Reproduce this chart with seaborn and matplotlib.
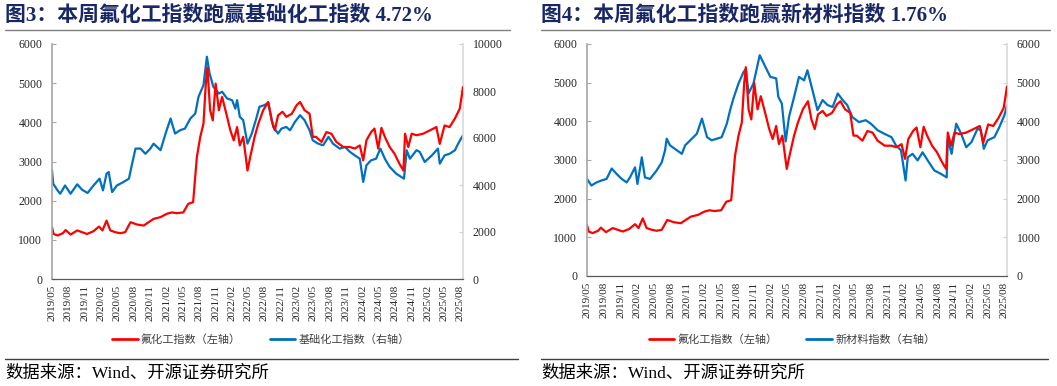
import pandas as pd
import matplotlib
matplotlib.use("Agg")
import matplotlib.pyplot as plt
import matplotlib.dates as mdates
from matplotlib.lines import Line2D
import seaborn as sns

# 氟化工指数 (left axis)
fluoro_dates = ["2019-05-01", "2019-05-10", "2019-06-01", "2019-07-01", "2019-07-16", "2019-08-13",
                "2019-09-19", "2019-10-16", "2019-11-13", "2019-12-19", "2020-01-19", "2020-02-07",
                "2020-03-01", "2020-03-22", "2020-04-19", "2020-05-16", "2020-06-13", "2020-07-13",
                "2020-08-19", "2020-09-25", "2020-10-22", "2020-11-19", "2020-12-28", "2021-02-01",
                "2021-03-01", "2021-03-28", "2021-05-04", "2021-06-01", "2021-06-28", "2021-07-19",
                "2021-08-07", "2021-08-25", "2021-09-07", "2021-09-16", "2021-10-01", "2021-10-16",
                "2021-11-01", "2021-11-19", "2021-12-07", "2022-01-04", "2022-01-22", "2022-02-10",
                "2022-03-01", "2022-03-16", "2022-04-04", "2022-04-28", "2022-05-13", "2022-06-07",
                "2022-06-28", "2022-07-25", "2022-08-22", "2022-09-10", "2022-09-28", "2022-10-16",
                "2022-11-10", "2022-12-01", "2023-01-01", "2023-01-28", "2023-02-16", "2023-03-13",
                "2023-04-10", "2023-04-28", "2023-05-16", "2023-06-16", "2023-07-13", "2023-08-10",
                "2023-09-07", "2023-10-16", "2023-11-22", "2023-12-19", "2024-01-16", "2024-02-04",
                "2024-02-22", "2024-03-19", "2024-04-07", "2024-04-28", "2024-05-16", "2024-06-04",
                "2024-07-01", "2024-07-28", "2024-08-25", "2024-09-16", "2024-09-25", "2024-10-13",
                "2024-11-01", "2024-11-28", "2025-01-04", "2025-02-13", "2025-03-19", "2025-04-07",
                "2025-05-04", "2025-06-01", "2025-07-01", "2025-07-28", "2025-08-15"]
fluoro_vals = [1320, 1150, 1110, 1170, 1250, 1135,
               1240, 1195, 1150, 1220, 1340, 1240,
               1490, 1240, 1195, 1170, 1195, 1450,
               1390, 1365, 1450, 1535, 1580, 1665,
               1700, 1680, 1700, 1920, 1960, 3115,
               3630, 3970, 4990, 5400, 4310, 4050,
               4990, 4310, 4650, 4140, 3800, 3540,
               3880, 3410, 3630, 2770, 3110, 3630,
               3970, 4310, 4520, 4050, 3800, 4180,
               4270, 4140, 4220, 4440, 4520, 4310,
               4220, 3630, 3630, 3500, 3750, 3710,
               3500, 3370, 3370, 3330, 3410, 3030,
               3540, 3750, 3840, 3330, 3860, 3630,
               3370, 3200, 2940, 2770, 3710, 3370,
               3710, 3670, 3710, 3800, 3880, 3450,
               3920, 3880, 4100, 4350, 4900]

# 基础化工指数 (right axis of the left chart)
basic_dates = ["2019-05-01", "2019-05-08", "2019-06-01", "2019-06-16", "2019-07-13", "2019-08-13",
               "2019-09-19", "2019-10-16", "2019-11-16", "2019-12-19", "2020-01-22", "2020-02-10",
               "2020-03-01", "2020-03-13", "2020-04-01", "2020-04-28", "2020-06-04", "2020-07-04",
               "2020-07-22", "2020-08-10", "2020-09-07", "2020-10-04", "2020-11-01", "2020-11-19",
               "2020-12-28", "2021-01-25", "2021-02-22", "2021-03-19", "2021-04-16", "2021-05-13",
               "2021-06-13", "2021-07-10", "2021-07-28", "2021-08-25", "2021-09-13", "2021-09-28",
               "2021-10-19", "2021-11-19", "2021-12-07", "2022-01-04", "2022-02-01", "2022-02-19",
               "2022-03-01", "2022-03-16", "2022-04-04", "2022-04-28", "2022-05-22", "2022-06-16",
               "2022-07-04", "2022-08-01", "2022-08-22", "2022-09-19", "2022-10-16", "2022-11-04",
               "2022-12-01", "2022-12-22", "2023-01-19", "2023-02-16", "2023-03-13", "2023-04-10",
               "2023-04-28", "2023-05-28", "2023-06-25", "2023-07-25", "2023-08-19", "2023-09-25",
               "2023-10-25", "2023-11-22", "2023-12-19", "2024-01-16", "2024-02-04", "2024-02-22",
               "2024-03-19", "2024-04-16", "2024-05-10", "2024-06-04", "2024-07-01", "2024-08-07",
               "2024-09-04", "2024-09-19", "2024-10-04", "2024-10-22", "2024-11-28", "2024-12-16",
               "2025-01-13", "2025-02-22", "2025-03-28", "2025-04-07", "2025-05-04", "2025-06-01",
               "2025-07-01", "2025-07-19", "2025-08-15"]
basic_vals = [4620, 4050, 3770, 3630, 3980, 3630,
              4030, 3800, 3660, 3980, 4270, 3770,
              4480, 4550, 3700, 3980, 4130, 4270,
              4910, 5550, 5550, 5330, 5550, 5760,
              5480, 6190, 6830, 6190, 6330, 6400,
              6830, 7040, 7750, 8250, 9460, 8750,
              8180, 7890, 7970, 7680, 7610, 7250,
              7610, 6900, 6760, 5760, 6190, 6830,
              7330, 7400, 7500, 6470, 6190, 6400,
              6470, 6330, 6690, 6970, 6760, 6330,
              5900, 5760, 5690, 6050, 5760, 5550,
              5620, 5410, 5260, 5120, 4130, 4840,
              5050, 5120, 5550, 5120, 4770, 4480,
              4340, 4270, 5480, 5120, 5480, 5410,
              4980, 5260, 5550, 4910, 5260, 5330,
              5480, 5760, 6120]

# 新材料指数 (right axis of the right chart)
newmat_dates = ["2019-05-01", "2019-05-25", "2019-06-22", "2019-07-19", "2019-08-16", "2019-09-13",
                "2019-10-10", "2019-11-07", "2019-12-04", "2019-12-22", "2020-01-19", "2020-02-01",
                "2020-02-25", "2020-03-13", "2020-04-10", "2020-05-16", "2020-06-13", "2020-07-01",
                "2020-07-10", "2020-07-28", "2020-09-04", "2020-10-01", "2020-10-19", "2020-11-16",
                "2020-12-22", "2021-01-19", "2021-02-16", "2021-03-13", "2021-04-10", "2021-05-07",
                "2021-06-04", "2021-06-22", "2021-07-10", "2021-08-07", "2021-09-04", "2021-09-16",
                "2021-10-01", "2021-10-28", "2021-12-01", "2022-01-01", "2022-01-28", "2022-03-01",
                "2022-03-13", "2022-04-01", "2022-04-22", "2022-05-10", "2022-06-07", "2022-07-04",
                "2022-08-01", "2022-08-19", "2022-09-16", "2022-10-13", "2022-11-10", "2022-12-07",
                "2023-01-04", "2023-02-01", "2023-02-28", "2023-03-25", "2023-04-22", "2023-05-28",
                "2023-07-04", "2023-08-01", "2023-09-07", "2023-10-13", "2023-11-22", "2023-12-16",
                "2024-01-13", "2024-02-07", "2024-02-19", "2024-03-16", "2024-04-13", "2024-05-10",
                "2024-06-07", "2024-07-13", "2024-08-19", "2024-09-19", "2024-09-25", "2024-10-16",
                "2024-11-10", "2024-12-07", "2025-01-04", "2025-02-01", "2025-03-07", "2025-03-25",
                "2025-04-10", "2025-05-01", "2025-06-07", "2025-07-04", "2025-08-01", "2025-08-15"]
newmat_vals = [2510, 2340, 2420, 2470, 2510, 2780,
               2640, 2510, 2420, 2550, 2810, 2380,
               3070, 2550, 2510, 2730, 2940, 3250,
               3550, 3380, 3250, 3160, 3380, 3510,
               3680, 4070, 3590, 3510, 3550, 3590,
               3940, 4290, 4590, 4980, 5280, 5350,
               4720, 4980, 5710, 5410, 5150, 5110,
               4630, 4460, 3480, 4110, 4630, 5150,
               5060, 5320, 4800, 4290, 4550, 4420,
               4370, 4720, 4550, 4420, 4110, 3980,
               4030, 3940, 3770, 3680, 3590, 3380,
               3250, 2470, 3070, 3160, 2990, 3200,
               2990, 2730, 2640, 2550, 3550, 3160,
               3940, 3680, 3330, 3460, 3810, 3770,
               3290, 3510, 3590, 3850, 4160, 4420]

titles = ["图3：本周氟化工指数跑赢基础化工指数 4.72%",
          "图4：本周氟化工指数跑赢新材料指数 1.76%"]
left_label = "氟化工指数（左轴）"
right_labels = ["基础化工指数（右轴）", "新材料指数（右轴）"]
source_text = "数据来源：Wind、开源证券研究所"

RED = "#FF0000"
BLUE = "#0070C0"

sns.set_style("white")
plt.rcParams["font.family"] = ["Liberation Serif", "Noto Sans CJK SC"]

fig = plt.figure(figsize=(10.57, 3.86), dpi=100)
W, H = 1057, 386


def px_rect(x0, x1, y0, y1):
    return [x0 / W, 1 - y1 / H, (x1 - x0) / W, (y1 - y0) / H]


panels = [
    dict(rect=px_rect(52, 463, 44, 279), right_dates=basic_dates, right_vals=basic_vals,
         rmax=10000, rstep=2000, title=titles[0], rlabel=right_labels[0],
         tx=5, line_x=(5, 510), src_x=(5, 518), leg_x=261),
    dict(rect=px_rect(587, 1007, 44, 276), right_dates=newmat_dates, right_vals=newmat_vals,
         rmax=6000, rstep=1000, title=titles[1], rlabel=right_labels[1],
         tx=541, line_x=(541, 1050), src_x=(541, 1048), leg_x=792),
]

x_start = pd.Timestamp("2019-05-01")
x_end = pd.Timestamp("2025-08-15")
tick_dates = pd.date_range("2019-05-01", "2025-08-01", freq="3MS")

for p in panels:
    ax = fig.add_axes(p["rect"])
    ax2 = ax.twinx()

    sns.lineplot(x=pd.to_datetime(p["right_dates"]), y=p["right_vals"], ax=ax2,
                 color=BLUE, linewidth=1.6, legend=False)
    sns.lineplot(x=pd.to_datetime(fluoro_dates), y=fluoro_vals, ax=ax,
                 color=RED, linewidth=1.6, legend=False)
    # red drawn over blue like the original
    ax.set_zorder(ax2.get_zorder() + 1)
    ax.patch.set_visible(False)

    ax.set_xlim(x_start, x_end)
    ax.set_ylim(0, 6000)
    ax.set_yticks(range(0, 6001, 1000))
    ax2.set_ylim(0, p["rmax"])
    ax2.set_yticks(range(0, p["rmax"] + 1, p["rstep"]))
    ax.set_xticks(tick_dates)
    ax.xaxis.set_major_formatter(mdates.DateFormatter("%Y/%m"))
    ax.set_xlabel("")
    ax.set_ylabel("")
    ax2.set_ylabel("")

    ax.tick_params(axis="x", direction="in", length=3, width=0.8, color="#595959",
                   labelsize=8, labelrotation=90, pad=4, labelcolor="#262626")
    ax.tick_params(axis="y", direction="in", length=3, width=0.8, color="#A6A6A6",
                   labelsize=8.5, pad=7, labelcolor="#262626")
    ax2.tick_params(axis="y", direction="in", length=3, width=0.8, color="#D0D0D0",
                    labelsize=8.5, pad=7, labelcolor="#262626")

    for a in (ax, ax2):
        a.spines["top"].set_visible(False)
    ax.spines["left"].set_color("#A6A6A6")
    ax.spines["left"].set_linewidth(1.2)
    ax.spines["bottom"].set_color("#595959")
    ax.spines["bottom"].set_linewidth(0.9)
    ax.spines["right"].set_visible(False)
    ax2.spines["left"].set_visible(False)
    ax2.spines["bottom"].set_visible(False)
    ax2.spines["right"].set_color("#D9D9D9")
    ax2.spines["right"].set_linewidth(1.2)

    # title and rules
    fig.text(p["tx"] / W, 1 - 16 / H, p["title"], fontsize=15, fontweight="bold",
             color="#1A2766", va="center", ha="left")
    fig.add_artist(Line2D([p["line_x"][0] / W, p["line_x"][1] / W], [1 - 30 / H, 1 - 30 / H],
                          transform=fig.transFigure, color="#7F7F7F", linewidth=1.0))
    fig.add_artist(Line2D([p["src_x"][0] / W, p["src_x"][1] / W], [1 - 359 / H, 1 - 359 / H],
                          transform=fig.transFigure, color="#404040", linewidth=1.0))
    fig.text(p["tx"] / W, 1 - 374 / H, source_text, fontsize=12.5, color="#000000",
             va="center", ha="left")

    handles = [Line2D([], [], color=RED, linewidth=2.0),
               Line2D([], [], color=BLUE, linewidth=2.0)]
    fig.legend(handles, [left_label, p["rlabel"]], loc="center",
               bbox_to_anchor=(p["leg_x"] / W, 1 - 340 / H), ncol=2, frameon=False,
               fontsize=8, handlelength=2.3, handletextpad=0.3, columnspacing=2.6,
               labelcolor="#404040")

fig.savefig("out.png", dpi=100)
